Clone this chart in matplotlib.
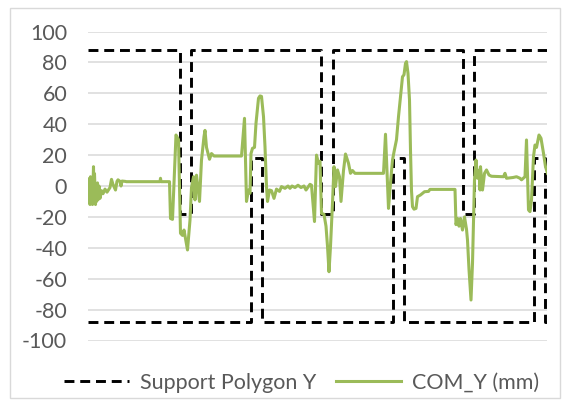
import numpy as np
import matplotlib
matplotlib.use("Agg")
import matplotlib.pyplot as plt
from matplotlib.patches import Rectangle

# Support polygon outline (time in s, lateral position in mm); NaN splits the two edges
sp_t = [0.00, 1.83, 1.83, 2.05, 2.05, 4.66, 4.66, 4.89, 4.89, 7.49, 7.49, 7.72, 7.72, 9.18,
        np.nan,
        0.00, 3.25, 3.25, 3.47, 3.47, 6.09, 6.09, 6.31, 6.31, 8.91, 8.91, 9.14, 9.14, 9.18]
sp_y = [88, 88, -18, -18, 88, 88, -18, -18, 88, 88, -18, -18, 88, 88,
        np.nan,
        -88, -88, 18, 18, -88, -88, 18, 18, -88, -88, 18, 18, -88, -88]

# Centre of mass lateral trajectory
com_t = [0.01, 0.03, 0.04, 0.05, 0.07, 0.08, 0.09, 0.11, 0.12, 0.13, 0.15, 0.16, 0.17, 0.19,
         0.20, 0.22, 0.24, 0.27, 0.30, 0.34, 0.38, 0.44, 0.47, 0.50, 0.55, 0.58, 0.60, 0.64,
         0.66, 0.68, 0.74, 0.77, 1.44, 1.45, 1.46, 1.63, 1.65, 1.69, 1.76, 1.81, 1.85, 1.89,
         1.92, 1.95, 1.99, 2.04, 2.07, 2.11, 2.14, 2.17, 2.23, 2.27, 2.32, 2.34, 2.37, 2.43,
         2.47, 2.52, 3.07, 3.13, 3.17, 3.21, 3.24, 3.26, 3.29, 3.33, 3.36, 3.41, 3.44, 3.47,
         3.51, 3.54, 3.57, 3.59, 3.63, 3.67, 3.72, 3.77, 3.83, 3.87, 3.94, 4.00, 4.04, 4.08,
         4.14, 4.20, 4.26, 4.32, 4.36, 4.44, 4.47, 4.53, 4.57, 4.61, 4.64, 4.67, 4.72, 4.76,
         4.79, 4.82, 4.85, 4.89, 4.92, 4.95, 4.99, 5.03, 5.06, 5.11, 5.15, 5.21, 5.25, 5.29,
         5.34, 5.91, 5.95, 6.01, 6.05, 6.09, 6.12, 6.17, 6.21, 6.25, 6.29, 6.32, 6.35, 6.37,
         6.40, 6.43, 6.45, 6.47, 6.49, 6.52, 6.56, 6.59, 6.65, 6.73, 6.81, 6.84, 7.34, 7.36,
         7.39, 7.42, 7.45, 7.49, 7.53, 7.54, 7.57, 7.59, 7.62, 7.66, 7.69, 7.73, 7.76, 7.79,
         7.80, 7.83, 7.84, 7.85, 7.89, 7.93, 7.97, 8.02, 8.07, 8.31, 8.34, 8.37, 8.50, 8.57,
         8.64, 8.67, 8.74, 8.77, 8.81, 8.84, 8.87, 8.91, 8.94, 8.97, 9.02, 9.06, 9.11, 9.15,
         9.19]
com_y = [-10, 5, -12, 6, -11, 4, -12, 12.5, -8, 8, -12, 0, -10, 2,
         -9, 0, -8, -3, -5, -2, -4, -1, 4.3, 1, -2.6, 3, 4, 3,
         0, 3.2, 3, 2.8, 2.8, 5, 2.8, 2.8, -21, -21.6, 33, 30, -30.6, -32,
         -28.5, -34, -41.4, -22, -1, 6, -9, 7, -10, 16.8, 32, 36, 25, 17.3,
         21, 19.4, 19.4, 43.8, -10, -2.6, -4.7, 21, 24.4, 25, 40.6, 56.8, 58.3, 58,
         44.9, 25.4, -0.4, -10, -2.6, -3, -8, -2, -3.5, -0.4, -1.5, 0, -1.5, 0,
         -1, 0.5, -1, 0, -2.6, 1.1, 0.5, -23, 20, 14.7, 16, -17.7, -18.3, -26,
         -39, -55.5, -39, -11, 12.5, -0.4, 10.4, 6, -10, 10, 20.7, 14.7, 8.2, 10,
         8.2, 8.2, 33.5, -14.5, 2, 16.8, 22, 30, 44.9, 57.8, 70.7, 72, 79.4, 80.5,
         72.9, 55.7, 23, -3, -13.4, -15, -14.5, -6.9, -5.8, -3.7, -3.5, -2.2, -2.2, -25,
         -21, -26, -21, -28.5, -20, -22, -28, -35, -54, -73.8, -50, 3.9, 16.8, 5,
         8.2, 10.4, -2.6, 12.5, -2.6, 8.2, 10.4, 7.1, 6.3, 6, 8.2, 5, 5.5, 6,
         5, 4, 6, 29.8, -15.5, -16.6, -9, 19, 26.5, 25, 33, 30.9, 21.2, 12.5,
         8.2]

y_ticks = [-100, -80, -60, -40, -20, 0, 20, 40, 60, 80, 100]

plt.rcParams['font.family'] = ['Lato', 'DejaVu Sans']

W, H = 563, 405
fig = plt.figure(figsize=(W / 100, H / 100), dpi=100)
fig.patch.set_facecolor('white')

# Chart-area border
fig.add_artist(Rectangle((10 / W, 7 / H), 550 / W, 390 / H, transform=fig.transFigure,
                         fill=False, edgecolor='#d9d9d9', linewidth=1.0))

ax = fig.add_axes([88 / W, (H - 340.5) / H, 459 / W, 309 / H])
ax.set_facecolor('white')

sp_line, = ax.plot(sp_t, sp_y, color='black', linewidth=2.1, label='Support Polygon Y',
                   solid_capstyle='butt', dash_capstyle='butt')
sp_line.set_dashes((3.4, 2.0))
ax.plot(com_t, com_y, color='#9BBB59', linewidth=2.2, label='COM_Y (mm)',
        solid_joinstyle='round')

ax.set_xlim(0, 9.18)
ax.set_ylim(-100, 100)
ax.set_yticks(y_ticks)
ax.set_yticklabels([str(v) for v in y_ticks])
ax.set_xticks([])
ax.tick_params(axis='y', length=0, pad=15, labelsize=15.5, labelcolor='#595959')
ax.grid(axis='y', color='#d9d9d9', linewidth=1.1)
ax.set_axisbelow(True)
for s in ax.spines.values():
    s.set_visible(False)

fig.legend(loc='center', bbox_to_anchor=(301.5 / W, 1 - 383 / H), ncol=2, frameon=False,
           fontsize=15.5, labelcolor='#595959', handlelength=3.0, handletextpad=0.5,
           columnspacing=0.95)

fig.savefig('out.png', dpi=100, facecolor='white')
